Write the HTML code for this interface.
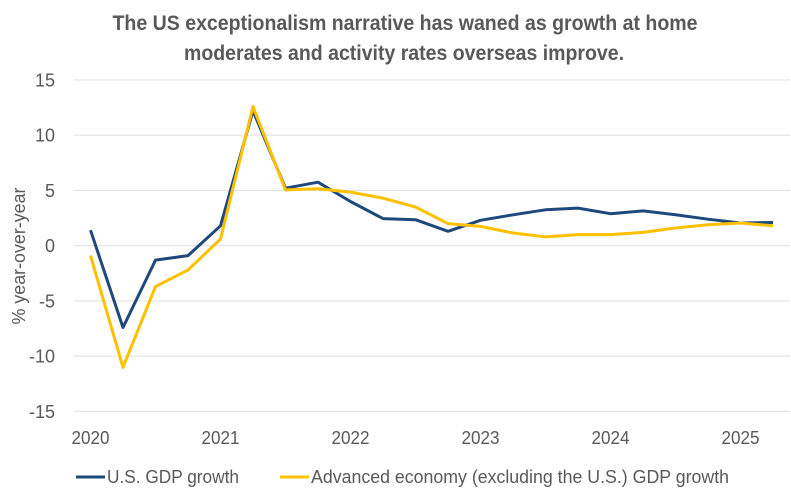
<!DOCTYPE html>
<html lang="en">
<head>
<meta charset="utf-8">
<title>US exceptionalism chart</title>
<style>
  html, body { margin: 0; padding: 0; background: #fff; }
  body { width: 791px; height: 494px; overflow: hidden; }
  svg { display: block; }
  text { font-family: "Liberation Sans", sans-serif; fill: #595959; }
</style>
</head>
<body>
<svg id="chart" width="791" height="494" viewBox="0 0 791 494" xmlns="http://www.w3.org/2000/svg">
  <rect x="0" y="0" width="791" height="494" fill="#ffffff"/>
  <text x="405" y="30" text-anchor="middle" font-size="21" font-weight="bold" textLength="585" lengthAdjust="spacingAndGlyphs">The US exceptionalism narrative has waned as growth at home</text>
  <text x="404" y="60" text-anchor="middle" font-size="21" font-weight="bold" textLength="440" lengthAdjust="spacingAndGlyphs">moderates and activity rates overseas improve.</text>
  <text transform="translate(25,256) rotate(-90)" text-anchor="middle" font-size="18.5" textLength="137" lengthAdjust="spacingAndGlyphs">% year-over-year</text>
  <g id="grid"></g>
  <g id="yticks"></g>
  <g id="xticks"></g>
  <g id="series"></g>
  <g>
    <line x1="76" y1="477" x2="105" y2="477" stroke="#1f497d" stroke-width="3"/>
    <text x="107" y="483" font-size="18.5" textLength="132" lengthAdjust="spacingAndGlyphs">U.S. GDP growth</text>
    <line x1="280" y1="477" x2="309" y2="477" stroke="#ffc000" stroke-width="3"/>
    <text x="311" y="483" font-size="18.5" textLength="418" lengthAdjust="spacingAndGlyphs">Advanced economy (excluding the U.S.) GDP growth</text>
  </g>
</svg>
<script>
const quarters = ['2020Q1','2020Q2','2020Q3','2020Q4','2021Q1','2021Q2','2021Q3','2021Q4','2022Q1','2022Q2','2022Q3','2022Q4','2023Q1','2023Q2','2023Q3','2023Q4','2024Q1','2024Q2','2024Q3','2024Q4','2025Q1','2025Q2'];
const usGrowth = [1.4,-7.4,-1.3,-0.9,1.8,12.2,5.2,5.75,4.0,2.45,2.35,1.3,2.3,2.8,3.25,3.4,2.9,3.15,2.8,2.4,2.05,2.1];
const advancedGrowth = [-0.9,-11,-3.7,-2.2,0.6,12.6,5.05,5.15,4.85,4.3,3.5,2.0,1.75,1.15,0.8,1.0,1.0,1.2,1.6,1.9,2.05,1.8];
const yTicks = [15,10,5,0,-5,-10,-15];
const xTickLabels = ['2020','2021','2022','2023','2024','2025'];

const NS = 'http://www.w3.org/2000/svg';
const plotLeft = 74, plotRight = 790, firstX = 90.5, lastX = 773;
function xScale(i) { return firstX + i * (lastX - firstX) / (quarters.length - 1); }
function yScale(v) { return 245.7 - v * 11.05; }

const gridG = document.getElementById('grid');
const yG = document.getElementById('yticks');
yTicks.forEach(function (t) {
  const line = document.createElementNS(NS, 'line');
  
  
  line.setAttribute('x1', plotLeft);
  line.setAttribute('x2', plotRight);
  line.setAttribute('y1', yScale(t));
  line.setAttribute('y2', yScale(t));
  line.setAttribute('stroke', '#e3e3e6');
  line.setAttribute('stroke-width', '1.2');
  gridG.appendChild(line);
  const label = document.createElementNS(NS, 'text');
  
  
  label.setAttribute('x', 55);
  label.setAttribute('y', yScale(t) + 6.5);
  label.setAttribute('text-anchor', 'end');
  label.setAttribute('font-size', '18');
  label.textContent = String(t);
  yG.appendChild(label);
});

const xG = document.getElementById('xticks');
xTickLabels.forEach(function (year) {
  const idx = quarters.indexOf(year + 'Q1');
  const label = document.createElementNS(NS, 'text');
  
  
  label.setAttribute('x', xScale(idx));
  label.setAttribute('y', 444);
  label.setAttribute('text-anchor', 'middle');
  label.setAttribute('font-size', '18');
  label.setAttribute('textLength', '38');
  label.setAttribute('lengthAdjust', 'spacingAndGlyphs');
  label.textContent = year;
  xG.appendChild(label);
});

const seriesG = document.getElementById('series');
function drawSeries(values, color, name) {
  const path = document.createElementNS(NS, 'polyline');
  
  
  path.setAttribute('points', values.map(function (v, i) { return xScale(i).toFixed(1) + ',' + yScale(v).toFixed(1); }).join(' '));
  path.setAttribute('fill', 'none');
  path.setAttribute('stroke', color);
  path.setAttribute('stroke-width', '3');
  path.setAttribute('stroke-linejoin', 'round');
  seriesG.appendChild(path);
}
drawSeries(usGrowth, '#1f497d', 'us-gdp-growth-line');
drawSeries(advancedGrowth, '#ffc000', 'advanced-economy-gdp-growth-line');
</script>
</body>
</html>
